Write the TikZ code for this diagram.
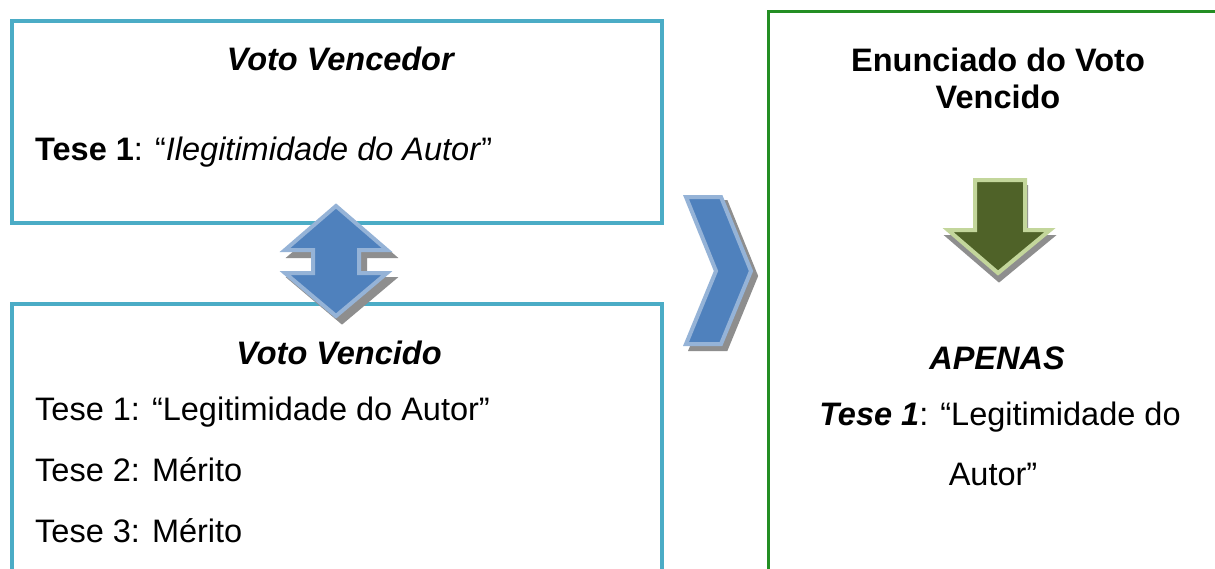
\documentclass[tikz,border=0pt]{standalone}
\usepackage{fontspec}
\setmainfont{Liberation Sans}
\definecolor{boxblue}{HTML}{4BACC6}
\definecolor{boxgreen}{HTML}{238E23}
\definecolor{arrowblue}{HTML}{4F81BD}
\definecolor{arrowblueedge}{HTML}{95B3D7}
\definecolor{arrowgreen}{HTML}{4F6228}
\definecolor{arrowgreenedge}{HTML}{C3D69B}
\definecolor{shadowgray}{HTML}{8E8E8E}
\begin{document}
\begin{tikzpicture}[x=1pt,y=-1pt,
  bluebox/.style={draw=boxblue,line width=4pt},
  greenbox/.style={draw=boxgreen,line width=3pt},
  txt/.style={font=\fontsize{32.5}{38}\selectfont,inner sep=0pt},
  shadowshape/.style={fill=shadowgray,draw=shadowgray,line width=4pt,line join=miter},
  bluearrow/.style={fill=arrowblue,draw=arrowblueedge,line width=4pt,line join=miter},
  greenarrow/.style={fill=arrowgreen,draw=arrowgreenedge,line width=4pt,line join=miter}]
\clip (0,0) rectangle (1215,568);
\fill[white] (0,0) rectangle (1215,568);
% boxes
\draw[bluebox] (12,21) rectangle (662,223);
\draw[bluebox] (12,304) rectangle (662,620);
\draw[greenbox] (768,11) rectangle (1240,620);
% double arrow
\def\dblarrow{(336,206) -- (387,250) -- (359,250) -- (359,273) -- (387,273) -- (336,316) -- (285,273) -- (313,273) -- (313,250) -- (285,250) -- cycle}
\path[shadowshape,shift={(6,6)}] \dblarrow;
\path[bluearrow] \dblarrow;
% chevron
\def\chev{(686,197) -- (721,197) -- (751,271) -- (721,344) -- (686,344) -- (716,271) -- cycle}
\path[shadowshape,shift={(5,5)}] \chev;
\path[bluearrow] \chev;
% green arrow
\def\garrow{(975,180) -- (1025,180) -- (1025,230) -- (1050,230) -- (998,273) -- (948,230) -- (975,230) -- cycle}
\path[shadowshape,shift={(1,7)}] \garrow;
\path[greenarrow] \garrow;
% texts
\node[txt,anchor=base] (vvhead) at (341,70) {\textbf{\textit{Voto Vencedor}}};
\node[txt,anchor=base west] (vvt1) at (35,160) {\textbf{Tese 1}: “\textit{Ilegitimidade do Autor}”};
\node[txt,anchor=base] (vchead) at (339,364) {\textbf{\textit{Voto Vencido}}};
\node[txt,anchor=base west] (vct1) at (35,420) {Tese 1: “Legitimidade do Autor”};
\node[txt,anchor=base west] (vct2) at (35,481) {Tese 2: Mérito};
\node[txt,anchor=base west] (vct3) at (35,542) {Tese 3: Mérito};
\node[txt,anchor=base] (en1) at (998,71) {\textbf{Enunciado do Voto}};
\node[txt,anchor=base] (en2) at (998,108) {\textbf{Vencido}};
\node[txt,anchor=base] (ap) at (997,369) {\textbf{\textit{APENAS}}};
\node[txt,anchor=base] (at1) at (1000,425) {\textbf{\textit{Tese 1}}: “Legitimidade do};
\node[txt,anchor=base] (at2) at (993,485) {Autor”};
\end{tikzpicture}
\end{document}
